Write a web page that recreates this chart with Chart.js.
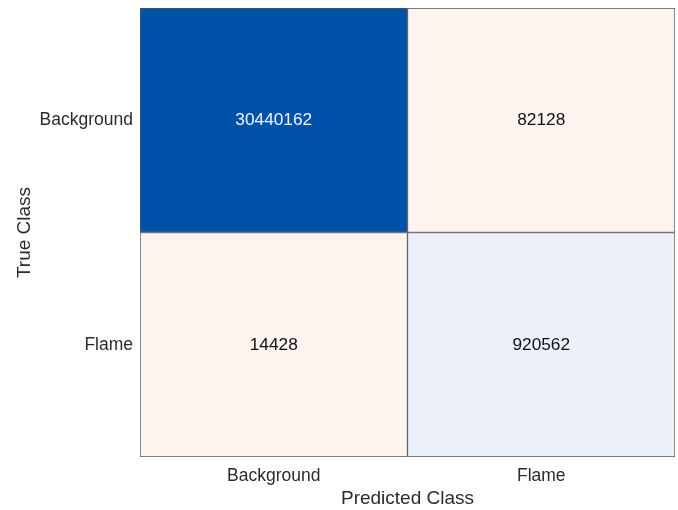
<!DOCTYPE html>
<html>
<head>
<meta charset="utf-8">
<script src="https://cdn.jsdelivr.net/npm/chart.js@4"></script>
<style>
  html, body { margin: 0; padding: 0; background: #fff; }
  #wrap { width: 678px; height: 510px; }
</style>
</head>
<body>
<div id="wrap"><canvas id="cm"></canvas></div>
<script>
// confusion matrix, rows = true class, cols = predicted class
const classes = ['Background', 'Flame'];
const counts = [
  [30440162, 82128],
  [14428, 920562],
];
const cellColors = [
  ['#0052a9', '#fdf3ef'],
  ['#fdf3ef', '#ebf0fb'],
];
const textColors = [
  ['#eef4ff', '#111111'],
  ['#111111', '#111111'],
];

const FONT = "'Liberation Sans', Arial, Helvetica, sans-serif";
const n = classes.length;

// one floating-bar dataset per true-class row, row 0 drawn at the top
const datasets = counts.map((row, r) => ({
  label: classes[r],
  data: row.map(() => [n - 1 - r, n - r]),
  backgroundColor: cellColors[r],
  borderColor: '#555555',
  borderWidth: 1,
  borderSkipped: false,
  barPercentage: 1,
  categoryPercentage: 1,
  grouped: false,
}));

const cellText = {
  id: 'cellText',
  afterDatasetsDraw(chart) {
    const ctx = chart.ctx;
    ctx.save();
    ctx.font = '17.3px ' + FONT;
    ctx.textAlign = 'center';
    ctx.textBaseline = 'middle';
    chart.data.datasets.forEach((ds, r) => {
      chart.getDatasetMeta(r).data.forEach((bar, c) => {
        ctx.fillStyle = textColors[r][c];
        ctx.fillText(String(counts[r][c]), bar.x, (bar.y + bar.base) / 2);
      });
    });
    ctx.restore();
  }
};

new Chart(document.getElementById('cm'), {
  type: 'bar',
  data: { labels: classes, datasets },
  options: {
    responsive: true,
    maintainAspectRatio: false,
    animation: false,
    layout: { padding: { top: 8, right: 3, left: 13, bottom: 0 } },
    plugins: { legend: { display: false }, tooltip: { enabled: false } },
    scales: {
      x: {
        grid: { display: false, drawTicks: false, tickLength: 0 },
        border: { display: false },
        ticks: { color: '#2b2b2b', font: { family: FONT, size: 17.5 }, padding: 9 },
        title: { display: true, text: 'Predicted Class', color: '#2b2b2b',
                 font: { family: FONT, size: 19 }, padding: { top: 0, bottom: 0 } },
        afterFit(axis) { axis.height = 53; axis.paddingLeft = 0; axis.paddingRight = 0; },
      },
      y: {
        type: 'linear',
        min: 0,
        max: n,
        grid: { display: false, drawTicks: false, tickLength: 0 },
        border: { display: false },
        afterBuildTicks(axis) {
          axis.ticks = classes.map((_, i) => ({ value: i + 0.5 }));
        },
        ticks: {
          color: '#2b2b2b',
          font: { family: FONT, size: 17.5 },
          padding: 7,
          callback: (v) => classes[n - 1 - Math.floor(v)],
        },
        title: { display: true, text: 'True Class', color: '#2b2b2b',
                 font: { family: FONT, size: 19 }, padding: { top: 0, bottom: 0 } },
        afterFit(axis) { axis.width = 127; axis.paddingTop = 0; axis.paddingBottom = 0; },
      },
    },
  },
  plugins: [cellText],
});
</script>
</body>
</html>
